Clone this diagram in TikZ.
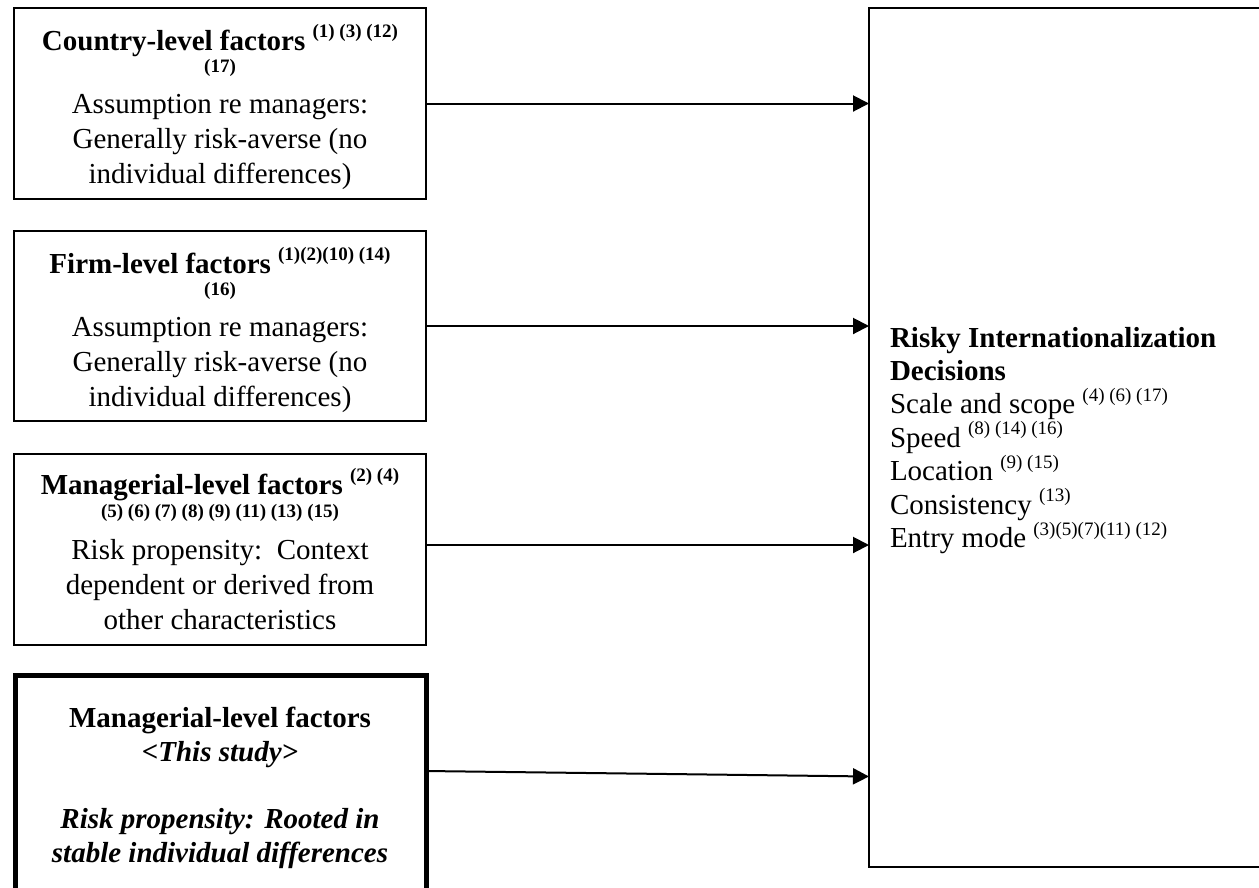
\documentclass[tikz,border=0pt]{standalone}
\usepackage{fontspec}
\setmainfont{Liberation Serif}
\usetikzlibrary{arrows.meta,calc}
\newcommand\mysup[1]{\raisebox{0.42em}{\fontsize{19}{19}\selectfont #1}}
\newcommand\smallref[1]{{\fontsize{19}{19}\selectfont\bfseries #1}}
\tikzset{
  box/.style={draw=black, line width=2.5pt, inner sep=0pt, outer sep=0pt, anchor=north west},
  thickbox/.style={box, line width=5pt},
  txt/.style={inner sep=0pt, outer sep=0pt, anchor=base, font=\fontsize{29}{35}\selectfont},
  ltxt/.style={txt, anchor=base west},
  arr/.style={line width=2pt, -{Triangle[length=16pt,width=16pt]}}
}
\begin{document}
\begin{tikzpicture}[x=1pt,y=-1pt]
\useasboundingbox (0,0) rectangle (1259,887);
\clip (0,0) rectangle (1259,887);
\fill[white] (0,0) rectangle (1259,887);
% boxes
\node[box, minimum width=412pt, minimum height=191pt] (b1) at (14,8) {};
\node[box, minimum width=412pt, minimum height=190pt] (b2) at (14,231) {};
\node[box, minimum width=412pt, minimum height=191pt] (b3) at (14,454) {};
\node[thickbox, minimum width=411pt, minimum height=240pt] (b4) at (15,675) {};
\node[box, minimum width=420pt, minimum height=859pt] (r) at (869,8) {};
% box 1
\node[txt] (t1a) at (220,50) {\textbf{Country-level factors \mysup{(1) (3) (12)}}};
\node[txt] (t1b) at (220,72) {\smallref{(17)}};
\node[txt] (t1c) at (220,113) {Assumption re managers:};
\node[txt] (t1d) at (220,148) {Generally risk-averse (no};
\node[txt] (t1e) at (220,183) {individual differences)};
% box 2
\node[txt] (t2a) at (220,273) {\textbf{Firm-level factors \mysup{(1)(2)(10) (14)}}};
\node[txt] (t2b) at (220,295) {\smallref{(16)}};
\node[txt] (t2c) at (220,336) {Assumption re managers:};
\node[txt] (t2d) at (220,371) {Generally risk-averse (no};
\node[txt] (t2e) at (220,406) {individual differences)};
% box 3
\node[txt] (t3a) at (220,494) {\textbf{Managerial-level factors \mysup{(2) (4)}}};
\node[txt] (t3b) at (220,517) {\smallref{(5) (6) (7) (8) (9) (11) (13) (15)}};
\node[txt] (t3c) at (220,559) {Risk propensity:\ \ Context};
\node[txt] (t3d) at (220,594) {dependent or derived from};
\node[txt] (t3e) at (220,629) {other characteristics};
% box 4
\node[txt] (t4a) at (220,727) {\textbf{Managerial-level factors}};
\node[txt] (t4b) at (220,761) {\textbf{\textit{<This study>}}};
\node[txt] (t4c) at (220,828) {\textbf{\textit{Risk propensity: Rooted in}}};
\node[txt] (t4d) at (220,862) {\textbf{\textit{stable individual differences}}};
% right box
\node[ltxt] (r1) at (890,347) {\textbf{Risky Internationalization}};
\node[ltxt] (r2) at (890,380) {\textbf{Decisions}};
\node[ltxt] (r3) at (890,413.5) {Scale and scope \mysup{(4) (6) (17)}};
\node[ltxt] (r4) at (890,447) {Speed \mysup{(8) (14) (16)}};
\node[ltxt] (r5) at (890,480.5) {Location \mysup{(9) (15)}};
\node[ltxt] (r6) at (890,514) {Consistency \mysup{(13)}};
\node[ltxt] (r7) at (890,547.5) {Entry mode \mysup{(3)(5)(7)(11) (12)}};
% arrows
\draw[arr] (b1.east) -- (b1.east -| r.west);
\draw[arr] (b2.east) -- (b2.east -| r.west);
\coordinate (a3s) at ($(b3.east)+(0,-4.5)$);
\draw[arr] (a3s) -- (a3s -| r.west);
\coordinate (a4s) at ($(b4.east)+(0,-24)$);
\coordinate (a4e) at ($(b4.east -| r.west)+(0,-18.5)$);
\draw[arr] (a4s) -- (a4e);
\end{tikzpicture}
\end{document}
